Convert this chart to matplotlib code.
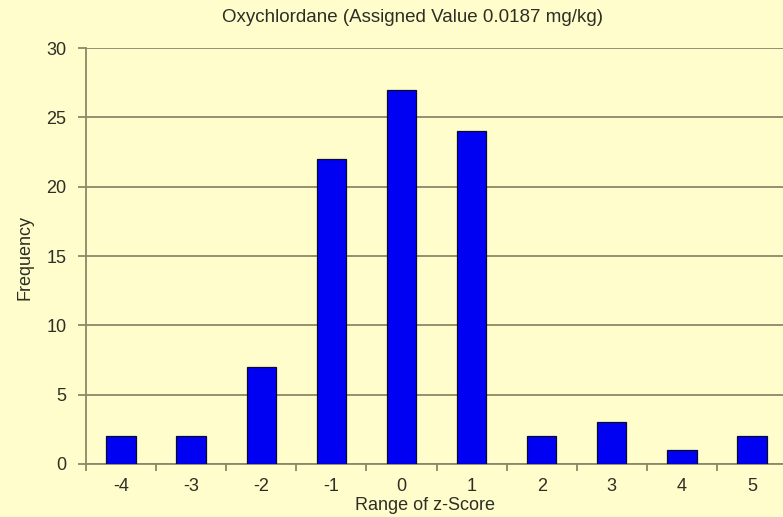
import matplotlib
matplotlib.use("Agg")
import matplotlib.pyplot as plt

plt.rcParams["font.family"] = ["Liberation Sans", "DejaVu Sans"]

categories = ["-4", "-3", "-2", "-1", "0", "1", "2", "3", "4", "5"]
frequency = [2, 2, 7, 22, 27, 24, 2, 3, 1, 2]
yticks = [0, 5, 10, 15, 20, 25, 30]

bg = "#FFFDCB"
txt = "#2e2e24"
grid_c = "#8c8766"
fs = 13

fig = plt.figure(figsize=(7.83, 5.17), dpi=100, facecolor=bg)
ax = fig.add_axes([86/783, 1-464/517, (787-86)/783, (464-48)/517])
ax.set_facecolor(bg)

x = list(range(len(categories)))
ax.bar(x, frequency, width=0.42, color="#0000F2", edgecolor="#0a0a30", linewidth=0.9, zorder=3)

ax.set_xlim(-0.5, len(categories) - 0.5)
ax.set_ylim(0, 30)
ax.set_yticks(yticks)
ax.set_yticklabels([str(v) for v in yticks], color=txt, fontsize=fs)
ax.yaxis.grid(True, color=grid_c, linewidth=1.3, zorder=0)

ax.set_xticks(x)
ax.set_xticklabels(categories, color=txt, fontsize=fs)
ax.tick_params(axis="x", which="major", length=0, pad=10)
ax.set_xticks([i + 0.5 for i in range(-1, len(categories))], minor=True)
ax.tick_params(axis="x", which="minor", length=5, color=grid_c, width=1.3, direction="out")
ax.tick_params(axis="y", length=6, color=grid_c, width=1.3, direction="out", pad=8)

for s in ["top", "right"]:
    ax.spines[s].set_visible(False)
for s in ["left", "bottom"]:
    ax.spines[s].set_color(grid_c)
    ax.spines[s].set_linewidth(1.3)

fig.text(412/783, 1-18/517, "Oxychlordane (Assigned Value 0.0187 mg/kg)", ha="center", va="center",
         fontsize=13.5, color=txt)
fig.text(425/783, 1-506/517, "Range of z-Score", ha="center", va="center", fontsize=fs, color=txt)
fig.text(25/783, 1-258/517, "Frequency", ha="center", va="center", rotation=90, fontsize=fs, color=txt)

fig.savefig("out.png", dpi=100, facecolor=bg)
